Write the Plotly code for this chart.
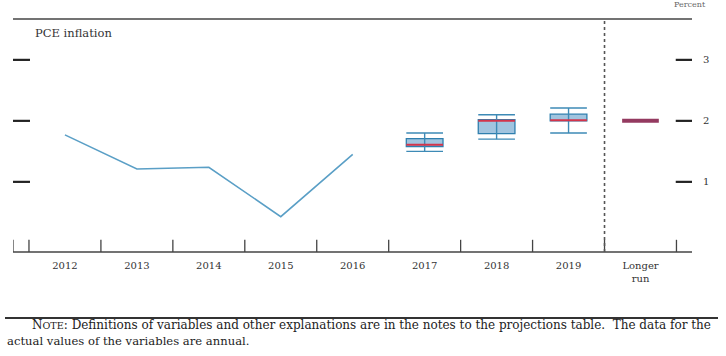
import plotly.graph_objects as go

# ---- data ----
categories = ["2012", "2013", "2014", "2015", "2016", "2017", "2018", "2019", "Longer<br>run"]
hist_years = ["2012", "2013", "2014", "2015", "2016"]
hist_values = [1.77, 1.21, 1.24, 0.43, 1.45]

proj_years = ["2017", "2018", "2019"]
range_low = [1.50, 1.70, 1.80]
range_high = [1.80, 2.10, 2.21]
ct_low = [1.58, 1.79, 2.00]
ct_high = [1.71, 2.02, 2.11]
median = [1.61, 2.00, 2.01]

longer_run_median = 2.0
y_ticks = [1, 2, 3]

# ---- layout helpers ----
W, H = 726, 356
L, R, T, B = 13, 34, 19, 104
X0, X1 = -0.722, 8.716
Y0, Y1 = -0.15, 3.67
PW, PH = W - L - R, H - T - B


def px(xp):
    return (xp - L) / PW


def py(yp):
    return (H - B - yp) / PH


pos = {c: i for i, c in enumerate(categories)}
BOXW = 0.51
FONT = "DejaVu Serif"

fig = go.Figure()

# historical line
fig.add_trace(go.Scatter(
    x=[pos[c] for c in hist_years], y=hist_values, mode="lines",
    line=dict(color="#5a9fc6", width=1.6), hoverinfo="skip"))

# central tendency boxes
xs = [pos[c] for c in proj_years]
fig.add_trace(go.Bar(
    x=xs, base=ct_low, y=[h - l for h, l in zip(ct_high, ct_low)],
    width=BOXW, marker=dict(color="rgba(130,176,212,0.75)",
                            line=dict(color="#2f7fae", width=1.3)),
    hoverinfo="skip"))

# whiskers (vertical + caps)
wx, wy = [], []
for x, lo, hi in zip(xs, range_low, range_high):
    wx += [x, x, None, x - BOXW / 2, x + BOXW / 2, None, x - BOXW / 2, x + BOXW / 2, None]
    wy += [lo, hi, None, lo, lo, None, hi, hi, None]
fig.add_trace(go.Scatter(x=wx, y=wy, mode="lines",
                         line=dict(color="#3d8ab6", width=1.4), hoverinfo="skip"))

# medians
mx, my = [], []
for x, m in zip(xs, median):
    mx += [x - BOXW / 2, x + BOXW / 2, None]
    my += [m, m, None]
fig.add_trace(go.Scatter(x=mx, y=my, mode="lines",
                         line=dict(color="#d3344b", width=2), hoverinfo="skip"))

# longer run median
lr = pos["Longer<br>run"]
fig.add_trace(go.Scatter(x=[lr - BOXW / 2, lr + BOXW / 2],
                         y=[longer_run_median, longer_run_median], mode="lines",
                         line=dict(color="#943a60", width=4), hoverinfo="skip"))

shapes = []
# top rule and bottom axis line
shapes.append(dict(type="line", xref="x", yref="paper", x0=X0, x1=X1, y0=1, y1=1,
                   line=dict(color="#444", width=1.5)))
shapes.append(dict(type="line", xref="x", yref="paper", x0=X0, x1=X1 + 0.04, y0=0, y1=0,
                   line=dict(color="#444", width=1.5)))
# bottom ticks
tick_x = [X0] + [i - 0.5 for i in range(len(categories) + 1)] + [X1 + 0.04]
for tx in tick_x:
    shapes.append(dict(type="line", xref="x", yref="y", x0=tx, x1=tx, y0=Y0, y1=Y0 + 0.2,
                       line=dict(color="#444", width=1.3)))
# dashed divider before longer run
shapes.append(dict(type="line", xref="x", yref="paper", x0=lr - 0.5, x1=lr - 0.5, y0=0, y1=1,
                   line=dict(color="#555", width=1.6, dash="3px,3px")))
# y tick dashes left/right
for yt in y_ticks:
    shapes.append(dict(type="line", xref="x", yref="y", x0=X0, x1=-0.486, y0=yt, y1=yt,
                       line=dict(color="#222", width=2.2)))
    shapes.append(dict(type="line", xref="x", yref="y", x0=lr + 0.49, x1=X1, y0=yt, y1=yt,
                       line=dict(color="#222", width=2.2)))
# note rule
shapes.append(dict(type="line", xref="paper", yref="paper", x0=px(5), x1=px(718),
                   y0=py(318), y1=py(318), line=dict(color="#333", width=2)))

annotations = [
    dict(text="Percent", xref="paper", yref="paper", x=px(690), y=py(5),
         showarrow=False, xanchor="center", yanchor="middle",
         font=dict(family=FONT, size=8, color="#666")),
    dict(text="PCE inflation", xref="paper", yref="paper", x=px(33), y=py(33),
         showarrow=False, xanchor="left", yanchor="middle",
         font=dict(family=FONT, size=11.5, color="#333")),
    dict(text="N<span style='font-size:9.6px'>OTE</span>: Definitions of variables and other explanations are in the notes to the projections table.  The data for the",
         xref="paper", yref="paper", x=px(30), y=py(325), showarrow=False,
         xanchor="left", yanchor="middle", font=dict(family=FONT, size=12.0, color="#222")),
    dict(text="actual values of the variables are annual.",
         xref="paper", yref="paper", x=px(5), y=py(341), showarrow=False,
         xanchor="left", yanchor="middle", font=dict(family=FONT, size=11.6, color="#222")),
]

fig.update_layout(
    width=W, height=H, margin=dict(l=L, r=R, t=T, b=B, autoexpand=False),
    plot_bgcolor="white", paper_bgcolor="white", showlegend=False,
    shapes=shapes, annotations=annotations,
    xaxis=dict(range=[X0, X1], tickvals=list(range(len(categories))), ticktext=categories,
               showgrid=False, zeroline=False, showline=False, ticks="", automargin=False,
               ticklabelstandoff=6,
               tickfont=dict(family=FONT, size=10, color="#333")),
    yaxis=dict(range=[Y0, Y1], tickvals=y_ticks, side="right", showgrid=False,
               zeroline=False, showline=False, ticks="", ticklabelstandoff=10, automargin=False,
               tickfont=dict(family=FONT, size=10, color="#333")),
)

fig.write_html("out.html", config={"displayModeBar": False},
               post_script="document.body.style.margin='0';")
